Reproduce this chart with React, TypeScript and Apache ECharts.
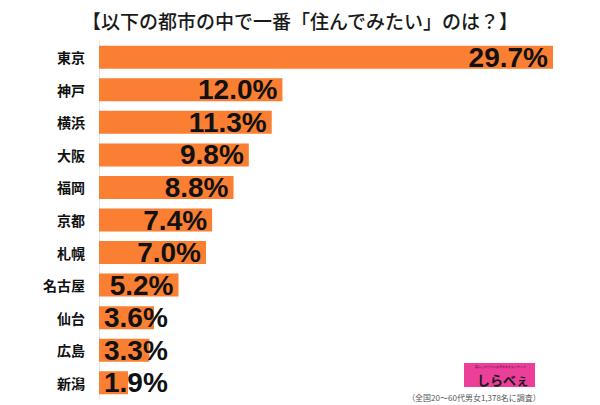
import React, { useEffect, useRef } from "react";
import * as echarts from "echarts";

const title = "【以下の都市の中で一番「住んでみたい」のは？】";
const cities = ["東京", "神戸", "横浜", "大阪", "福岡", "京都", "札幌", "名古屋", "仙台", "広島", "新潟"];
const values = [29.7, 12.0, 11.3, 9.8, 8.8, 7.4, 7.0, 5.2, 3.6, 3.3, 1.9];
const footnote = "（全国20～60代男女1,378名に調査）";
const logoText = "しらべぇ";
const logoTagline = "暮らしのリアルを可視化するメディア";

export default function App() {
  const ref = useRef<HTMLDivElement>(null);
  useEffect(() => {
    if (!ref.current) return;
    const chart = echarts.init(ref.current, null, { renderer: "svg" });
    const data = values.map((v) => ({
      value: v,
      label: {
        position: v >= 5 ? "insideRight" : "insideLeft",
      },
    }));
    chart.setOption({
      animation: false,
      backgroundColor: "#ffffff",
      title: {
        text: title,
        left: "center",
        top: 6,
        textStyle: {
          fontSize: 19,
          fontWeight: 500,
          color: "#1a1a1a",
          fontFamily: "Noto Sans CJK JP",
        },
      },
      grid: { left: 99, right: 47, top: 41, bottom: 6 },
      xAxis: {
        type: "value",
        min: 0,
        max: 29.7,
        show: false,
      },
      yAxis: {
        type: "category",
        data: cities,
        inverse: true,
        axisLine: { show: true, lineStyle: { color: "#e4e4e4", width: 1 } },
        axisTick: { show: false },
        axisLabel: {
          margin: 14,
          fontSize: 14,
          fontWeight: "bold",
          color: "#111",
          fontFamily: "Noto Sans CJK JP",
        },
      },
      series: [
        {
          type: "bar",
          data,
          barWidth: 23,
          itemStyle: { color: "#fa7f33" },
          label: {
            show: true,
            formatter: (p: any) => p.value.toFixed(1) + "%",
            fontSize: 28,
            fontWeight: "bold",
            color: "#111",
            fontFamily: "Liberation Sans",
            distance: 5,
          },
        },
      ],
      graphic: [
        {
          type: "rect",
          shape: { x: 464, y: 363, width: 71, height: 24 },
          style: { fill: "#ec3f9a" },
        },
        {
          type: "text",
          x: 500,
          y: 366.5,
          style: {
            text: logoTagline,
            fontSize: 3,
            fill: "#3a0a22",
            align: "center",
            verticalAlign: "middle",
          },
        },
        {
          type: "text",
          x: 503,
          y: 379,
          style: {
            text: logoText,
            fontSize: 13,
            fontWeight: "bold",
            fill: "#1a1a1a",
            align: "center",
            verticalAlign: "middle",
            fontFamily: "Noto Sans CJK JP",
          },
        },
        {
          type: "text",
          x: 474,
          y: 397,
          style: {
            text: footnote,
            fontSize: 8,
            fill: "#555",
            align: "center",
            verticalAlign: "middle",
            fontFamily: "Noto Sans CJK JP",
          },
        },
      ],
    });
    return () => chart.dispose();
  }, []);
  return <div ref={ref} style={{ width: 600, height: 405, position: "absolute", left: 0, top: 0 }} />;
}
